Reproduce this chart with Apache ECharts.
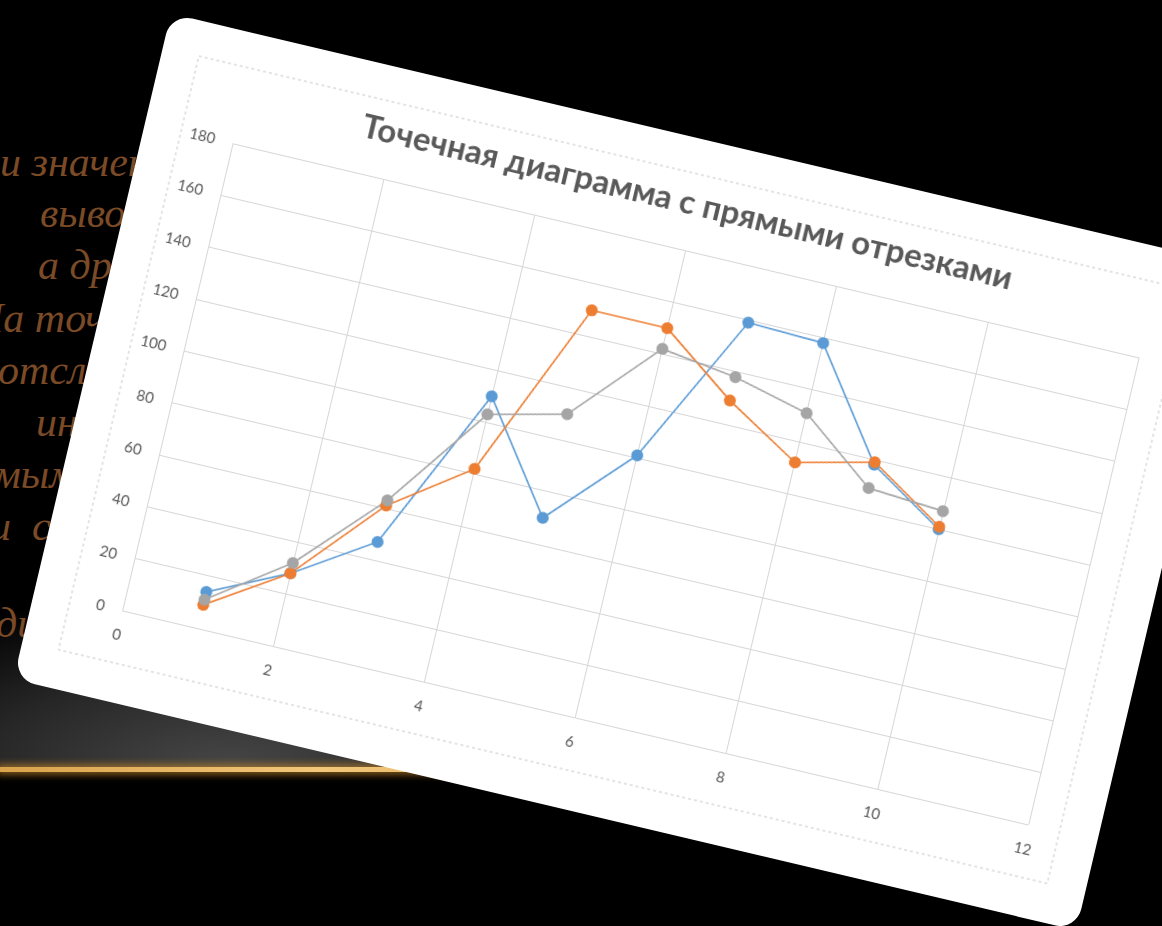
<!DOCTYPE html>
<html><head><meta charset="utf-8">
<script src="https://cdn.jsdelivr.net/npm/echarts/dist/echarts.min.js"></script>
<style>
html,body{margin:0;padding:0;background:#000;width:1162px;height:926px;overflow:hidden;position:relative}
#glowbg{position:absolute;left:0;top:590px;width:760px;height:180px;background:radial-gradient(ellipse 460px 180px at 230px 180px, #484848 0%, #262626 55%, rgba(0,0,0,0) 100%);}
#goldline{position:absolute;left:0;top:767px;width:640px;height:5px;background:linear-gradient(to right,#d9a24c,#f2c77a 50%,#e0aa55);box-shadow:0 0 7px 3px rgba(190,130,40,0.65);}
.t{position:absolute;font-family:"Liberation Serif",serif;font-style:italic;font-size:42px;color:#7b4a26;white-space:nowrap;line-height:1}
#card{position:absolute;left:78px;top:130px;width:1092px;height:684px;background:#fff;border-radius:22px;transform:rotate(13.3deg);transform-origin:546px 340px;overflow:hidden}
#chart{position:absolute;left:0;top:0;width:1092px;height:680px}
</style></head>
<body>
<div id="glowbg"></div>
<div id="goldline"></div>
<div class="t" style="left:0px;top:141px">и значения</div>
<div class="t" style="left:40px;top:192px">выводятся</div>
<div class="t" style="left:38px;top:244px">а другая</div>
<div class="t" style="left:-27px;top:297px">На точечной</div>
<div class="t" style="left:-2px;top:349px">отслеживаются</div>
<div class="t" style="left:36px;top:401px">интервалы</div>
<div class="t" style="left:-6px;top:453px">мыми</div>
<div class="t" style="left:-10px;top:505px">и&nbsp;&nbsp;соединены</div>
<div class="t" style="left:-4px;top:602px">диаграмма</div>
<div id="card"><div id="chart"></div></div>
<script>
const titleText = 'Точечная диаграмма с прямыми отрезками';
const xValues = [1, 2, 3, 4, 5, 6, 7, 8, 9, 10];
const series1 = [14, 28, 47, 110, 70, 101, 159, 158, 118, 100];
const series2 = [9, 28, 61, 82, 150, 150, 129, 112, 119, 101];
const series3 = [11, 32, 63, 103, 110, 142, 138, 131, 109, 107];
const seriesNames = ['Ряд 1', 'Ряд 2', 'Ряд 3'];
const colors = ['#5b9bd5', '#ed7d31', '#a5a5a5'];

const pair = ys => xValues.map((x, i) => [x, ys[i]]);
const chart = echarts.init(document.getElementById('chart'));
const axisCommon = {
  type: 'value',
  axisLine: {show: false},
  axisTick: {show: false},
  splitLine: {show: true, lineStyle: {color: '#d6d6d6', width: 1}},
  axisLabel: {color: '#595959', fontSize: 15, fontFamily: 'Lato', margin: 18}
};
chart.setOption({
  animation: false,
  backgroundColor: 'transparent',
  title: {
    text: titleText, left: 'center', top: 44,
    textStyle: {color: '#595959', fontSize: 33, fontWeight: 'bold', fontFamily: 'Lato'}
  },
  graphic: [{
    type: 'rect', z: -10, silent: true,
    shape: {x: 37, y: 35, width: 1016, height: 610},
    style: {fill: 'none', stroke: '#c8c8c8', lineWidth: 1, lineDash: [3, 3]}
  }],
  grid: {left: 90, top: 112, right: 71, bottom: 88, containLabel: false},
  xAxis: Object.assign({}, axisCommon, {min: 0, max: 12, interval: 2}),
  yAxis: Object.assign({}, axisCommon, {min: 0, max: 180, interval: 20}),
  series: [series1, series2, series3].map((ys, i) => ({
    name: seriesNames[i], type: 'line', data: pair(ys),
    symbol: 'circle', symbolSize: 12,
    lineStyle: {color: colors[i], width: 1.6},
    itemStyle: {color: colors[i]}
  }))
});
</script>
</body></html>
